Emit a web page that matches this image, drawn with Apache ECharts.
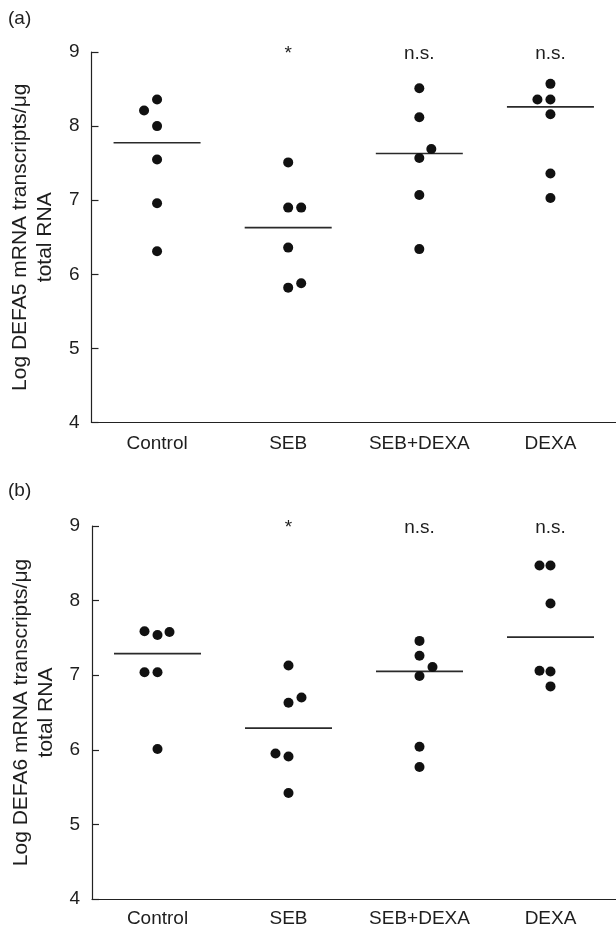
<!DOCTYPE html>
<html>
<head>
<meta charset="utf-8">
<script src="https://cdn.jsdelivr.net/npm/echarts@6/dist/echarts.min.js"></script>
<style>
html,body{margin:0;padding:0;background:#fff;}
#chart{width:616px;height:933px;}
</style>
</head>
<body>
<div id="chart"></div>
<script>
// ---- data ----
const categories = ['Control', 'SEB', 'SEB+DEXA', 'DEXA'];
const yTicks = [4, 5, 6, 7, 8, 9];

// Panel (a): Log DEFA5 mRNA transcripts/µg total RNA
const a_control = [8.36, 8.21, 8.00, 7.55, 6.96, 6.31];
const a_seb     = [7.51, 6.90, 6.90, 6.36, 5.88, 5.82];
const a_sebdexa = [8.51, 8.12, 7.69, 7.57, 7.07, 6.34];
const a_dexa    = [8.57, 8.36, 8.36, 8.16, 7.36, 7.03];
const a_annot   = ['', '*', 'n.s.', 'n.s.'];

// Panel (b): Log DEFA6 mRNA transcripts/µg total RNA
const b_control = [7.59, 7.54, 7.58, 7.04, 7.04, 6.01];
const b_seb     = [7.13, 6.70, 6.63, 5.95, 5.91, 5.42];
const b_sebdexa = [7.46, 7.26, 7.11, 6.99, 6.04, 5.77];
const b_dexa    = [8.47, 8.47, 7.96, 7.06, 7.05, 6.85];
const b_annot   = ['', '*', 'n.s.', 'n.s.'];

// ---- layout (pixel jitter of overlapping dots, style only) ----
const a_jitter = [[0,-13,0,0,0,0],[0,0,13,0,13,0],[0,0,12,0,0,0],[0,-13,0,0,0,0]];
const b_jitter = [[-13,0,12,-13,0,0],[0,13,0,-13,0,0],[0,0,13,0,0,0],[-11,0,0,-11,0,0]];

const FONT = 'Liberation Sans, Arial, Helvetica, sans-serif';
const TXT = '#1e1e1e';
const FS = 19;
const FS_TITLE = 21;

function median(arr) {
  const s = arr.slice().sort((p, q) => p - q);
  const n = s.length;
  return n % 2 ? s[(n - 1) / 2] : (s[n / 2 - 1] + s[n / 2]) / 2;
}

function buildSeries(idx, groups, jitter, annot) {
  const pts = [];
  groups.forEach((vals, i) => vals.forEach((v, j) => {
    pts.push({ value: [categories[i], v], symbolOffset: [jitter[i][j], 0] });
  }));
  const meds = groups.map((vals, i) => [categories[i], median(vals)]);
  const ann = annot.map((t, i) => ({ name: t, value: [categories[i], 9] })).filter(d => d.name);
  return [
    {
      type: 'scatter', xAxisIndex: idx, yAxisIndex: idx, z: 2,
      symbol: 'rect', symbolSize: [87, 1.7],
      itemStyle: { color: '#2a2a2a', opacity: 1 }, silent: true,
      data: meds
    },
    {
      type: 'scatter', xAxisIndex: idx, yAxisIndex: idx, z: 3,
      symbol: 'circle', symbolSize: 10,
      itemStyle: { color: '#111', opacity: 1 }, silent: true,
      data: pts
    },
    {
      type: 'scatter', xAxisIndex: idx, yAxisIndex: idx, z: 4,
      symbol: 'rect', symbolSize: 1,
      itemStyle: { color: 'transparent', opacity: 1 }, silent: true,
      label: {
        show: true, position: 'inside', formatter: p => p.name, offset: [0, 2],
        color: TXT, fontSize: FS, fontFamily: FONT
      },
      data: ann
    }
  ];
}

function xAxis(idx, margin) {
  return {
    type: 'category', gridIndex: idx, data: categories, boundaryGap: true,
    axisLine: { show: true, lineStyle: { color: '#222', width: 1.2 } },
    axisTick: { show: false },
    axisLabel: { color: TXT, fontSize: FS, fontFamily: FONT, margin: margin, interval: 0 },
    splitLine: { show: false }
  };
}

function yAxis(idx, name) {
  return {
    type: 'value', gridIndex: idx,
    min: yTicks[0], max: yTicks[yTicks.length - 1], interval: 1,
    axisLine: { show: true, lineStyle: { color: '#222', width: 1.2 } },
    axisTick: { show: true, inside: true, length: 7, lineStyle: { color: '#222', width: 1.2 } },
    axisLabel: { color: TXT, fontSize: FS, fontFamily: FONT, margin: 12 },
    splitLine: { show: false },
    name: name, nameLocation: 'middle', nameRotate: 90, nameGap: 31,
    nameTextStyle: { color: TXT, fontSize: FS_TITLE, fontFamily: FONT, lineHeight: 25, align: 'center' }
  };
}

const chart = echarts.init(document.getElementById('chart'), null, { renderer: 'canvas' });
chart.setOption({
  backgroundColor: '#fff',
  animation: false,
  graphic: [
    { type: 'text', left: 8, top: 9, style: { text: '(a)', fill: TXT, fontSize: FS, fontFamily: FONT } },
    { type: 'text', left: 8, top: 481, style: { text: '(b)', fill: TXT, fontSize: FS, fontFamily: FONT } }
  ],
  grid: [
    { left: 91.5, top: 52, width: 540.8, height: 370.5 },
    { left: 92, top: 526, width: 554, height: 373 }
  ],
  xAxis: [xAxis(0, 12), xAxis(1, 10)],
  yAxis: [
    yAxis(0, 'Log DEFA5 mRNA transcripts/\u03bcg\ntotal RNA'),
    yAxis(1, 'Log DEFA6 mRNA transcripts/\u03bcg\ntotal RNA')
  ],
  series: [].concat(
    buildSeries(0, [a_control, a_seb, a_sebdexa, a_dexa], a_jitter, a_annot),
    buildSeries(1, [b_control, b_seb, b_sebdexa, b_dexa], b_jitter, b_annot)
  )
});
</script>
</body>
</html>
